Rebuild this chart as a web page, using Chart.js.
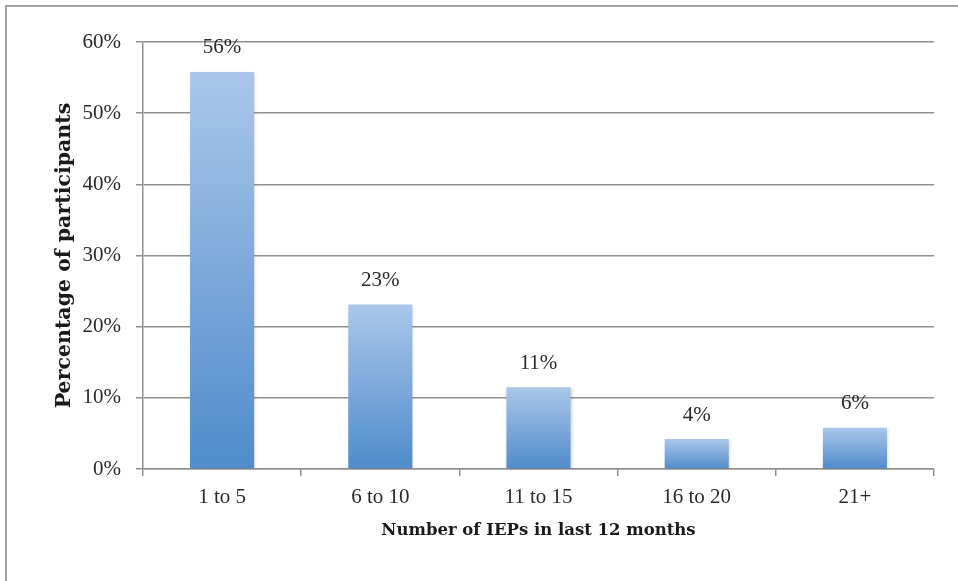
<!DOCTYPE html>
<html>
<head>
<meta charset="utf-8">
<script src="https://cdn.jsdelivr.net/npm/chart.js@4/dist/chart.umd.min.js"></script>
<style>
  html, body { margin: 0; padding: 0; background: #fff; }
  #wrap { width: 958px; height: 581px; position: relative; }
</style>
</head>
<body>
<div id="wrap"><canvas id="c" width="958" height="581"></canvas></div>
<script>
const categories = ["1 to 5", "6 to 10", "11 to 15", "16 to 20", "21+"];
const percentValues = [55.8, 23.1, 11.5, 4.2, 5.8];
const valueLabels = ["56%", "23%", "11%", "4%", "6%"];
const yTicks = [0, 10, 20, 30, 40, 50, 60];

const FONT = "'Liberation Serif', 'DejaVu Serif', serif";
const TITLE_FONT = "'DejaVu Serif', 'Liberation Serif', serif";
const GRID = "#8f8f8f";
const TEXT = "#2a2a2a";

function barGradient(ctx) {
  const chart = ctx.chart;
  const area = chart.chartArea;
  if (!area || ctx.type !== 'data') return '#7aa7da';
  const y = chart.scales.y;
  const top = y.getPixelForValue(percentValues[ctx.dataIndex]);
  const bottom = y.getPixelForValue(0);
  const g = chart.ctx.createLinearGradient(0, top, 0, bottom);
  g.addColorStop(0, '#aac7ea');
  g.addColorStop(1, '#4f8bcb');
  return g;
}

const framePlugin = {
  id: 'frame',
  beforeDraw(chart) {
    const c = chart.ctx;
    c.save();
    c.fillStyle = '#fff';
    c.fillRect(0, 0, chart.width, chart.height);
    c.strokeStyle = '#a3a3a6';
    c.lineWidth = 2;
    c.beginPath();
    c.moveTo(6, 600);
    c.lineTo(6, 6);
    c.lineTo(960, 6);
    c.stroke();
    c.restore();
  },
  beforeDatasetsDraw(chart) {
    const c = chart.ctx;
    c.save();
    c.shadowColor = 'rgba(0,0,0,0.18)';
    c.shadowBlur = 3;
    c.shadowOffsetX = 1;
    c.shadowOffsetY = 1;
  },
  afterDatasetsDraw(chart) {
    const c = chart.ctx;
    c.restore();
    const meta = chart.getDatasetMeta(0);
    c.save();
    c.font = "21px " + FONT;
    c.fillStyle = TEXT;
    c.textAlign = 'center';
    c.textBaseline = 'middle';
    meta.data.forEach((bar, i) => {
      c.fillText(valueLabels[i], bar.x, bar.y - 24);
    });
    c.restore();
  }
};

new Chart(document.getElementById('c'), {
  type: 'bar',
  data: {
    labels: categories,
    datasets: [{
      data: percentValues,
      backgroundColor: barGradient,
      borderWidth: 0,
      categoryPercentage: 1,
      barPercentage: 0.405
    }]
  },
  options: {
    responsive: false,
    animation: false,
    devicePixelRatio: 1,
    layout: { padding: { left: 0, top: 42, right: 24, bottom: 0 } },
    plugins: { legend: { display: false }, tooltip: { enabled: false } },
    scales: {
      x: {
        afterFit(s) { s.height = 112; },
        grid: { offset: true, drawOnChartArea: false, drawTicks: true, tickLength: 7, color: GRID, lineWidth: 1.5 },
        border: { color: GRID, width: 1.5 },
        ticks: { font: { family: FONT, size: 21 }, color: TEXT, padding: 9, maxRotation: 0 },
        title: { display: true, text: 'Number of IEPs in last 12 months', font: { family: TITLE_FONT, size: 16.5, weight: 'bold' }, color: '#1a1a1a', padding: { top: 0, bottom: 40 } }
      },
      y: {
        min: 0, max: 60,
        afterFit(s) { s.width = 143; },
        afterBuildTicks(s) { s.ticks = yTicks.map(v => ({ value: v })); },
        grid: { color: GRID, lineWidth: 1.5, tickLength: 7 },
        border: { color: GRID, width: 1.5 },
        ticks: { font: { family: FONT, size: 21 }, color: TEXT, padding: 15, callback: v => v + '%' },
        title: { display: true, text: 'Percentage of participants', font: { family: TITLE_FONT, size: 20.5, weight: 'bold' }, color: '#1a1a1a', padding: { top: 52, bottom: 0 } }
      }
    }
  },
  plugins: [framePlugin]
});
</script>
</body>
</html>
